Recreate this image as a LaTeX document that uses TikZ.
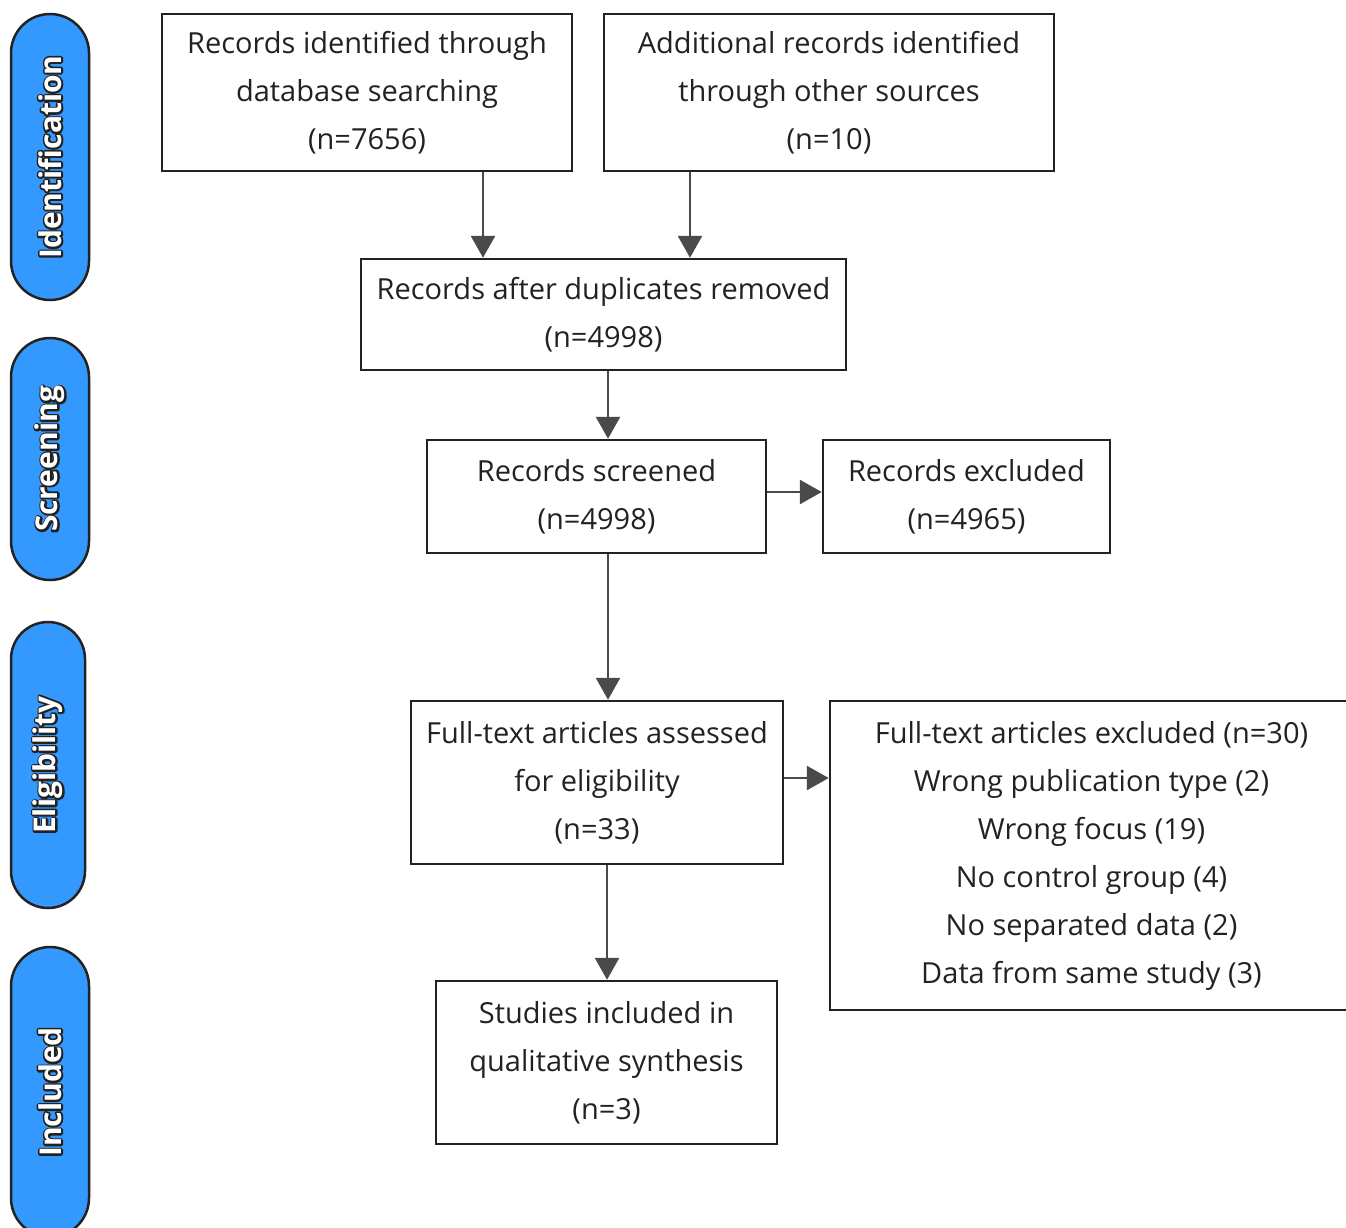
\documentclass[tikz,border=0pt]{standalone}
\usepackage{fontspec}
\setmainfont{Open Sans}
\usetikzlibrary{arrows.meta}
\definecolor{pillblue}{HTML}{3399FF}
\definecolor{ink}{HTML}{222222}
\definecolor{arrowgray}{HTML}{4A4A4A}
\newcommand{\outlinedtext}[1]{\special{pdf:literal direct 1 Tr 3.5 w 1 j 0.13 0.13 0.13 RG}\rlap{#1}\special{pdf:literal direct 0 Tr}#1}
\tikzset{
  flowbox/.style={draw=ink, line width=2.5pt, fill=white, text=ink, align=center,
    inner sep=0pt, font=\fontsize{29}{48}\selectfont},
  pillbox/.style={draw=ink, line width=2.5pt, fill=pillblue, rotate=90,
    minimum height=78pt, text=white, inner sep=0pt,
    font=\fontsize{30}{34}\selectfont\bfseries},
  flowarrow/.style={draw=arrowgray, line width=2.8pt,
    -{Triangle[width=24pt,length=22pt]}},
}
\begin{document}
\begin{tikzpicture}[x=1pt,y=-1pt]
\useasboundingbox (0,0) rectangle (1346,1227);
\clip (0,0) rectangle (1346,1227);
% phase pills
\node[pillbox, minimum width=286pt, rounded corners=39pt] (pid) at (50,157) {\outlinedtext{Identification}};
\node[pillbox, minimum width=242pt, rounded corners=39pt] (psc) at (50,459) {\outlinedtext{Screening}};
\node[pillbox, minimum width=286pt, minimum height=74pt, rounded corners=37pt] (pel) at (48,765) {\outlinedtext{Eligibility}};
\node[pillbox, minimum width=290pt, rounded corners=39pt] (pin) at (50,1092) {\outlinedtext{Included}};
% boxes
\node[flowbox, minimum width=410pt, minimum height=157pt] (b1) at (367,92.5)
  {Records identified through\\database searching\\(n=7656)};
\node[flowbox, minimum width=450pt, minimum height=157pt] (b2) at (829,92.5)
  {Additional records identified\\through other sources\\(n=10)};
\node[flowbox, minimum width=485pt, minimum height=111pt] (b3) at (603.5,314.5)
  {Records after duplicates removed\\(n=4998)};
\node[flowbox, minimum width=339pt, minimum height=113pt] (b4) at (596.5,496.5)
  {Records screened\\(n=4998)};
\node[flowbox, minimum width=287pt, minimum height=113pt] (b5) at (966.5,496.5)
  {Records excluded\\(n=4965)};
\node[flowbox, minimum width=372pt, minimum height=163pt] (b6) at (597,782.5)
  {Full-text articles assessed\\for eligibility\\(n=33)};
\node[flowbox, minimum width=523pt, minimum height=309pt] (b7) at (1091.5,855.5)
  {Full-text articles excluded (n=30)\\Wrong publication type (2)\\Wrong focus (19)\\No control group (4)\\No separated data (2)\\Data from same study (3)};
\node[flowbox, minimum width=341pt, minimum height=163pt] (b8) at (606.5,1062.5)
  {Studies included in\\qualitative synthesis\\(n=3)};
% arrow guide coordinates
\coordinate (xa) at (483,0);
\coordinate (xb) at (690,0);
\coordinate (xc) at (608,0);
\coordinate (xd) at (607,0);
\coordinate (ya) at (0,492);
\coordinate (yb) at (0,778);
% connectors
\draw[flowarrow] (b1.south -| xa) -- (b3.north -| xa);
\draw[flowarrow] (b2.south -| xb) -- (b3.north -| xb);
\draw[flowarrow] (b3.south -| xc) -- (b4.north -| xc);
\draw[flowarrow] (b4.south -| xc) -- (b6.north -| xc);
\draw[flowarrow] (b6.south -| xd) -- (b8.north -| xd);
\draw[flowarrow] (b4.east |- ya) -- (b5.west |- ya);
\draw[flowarrow] (b6.east |- yb) -- (b7.west |- yb);
\end{tikzpicture}
\end{document}
